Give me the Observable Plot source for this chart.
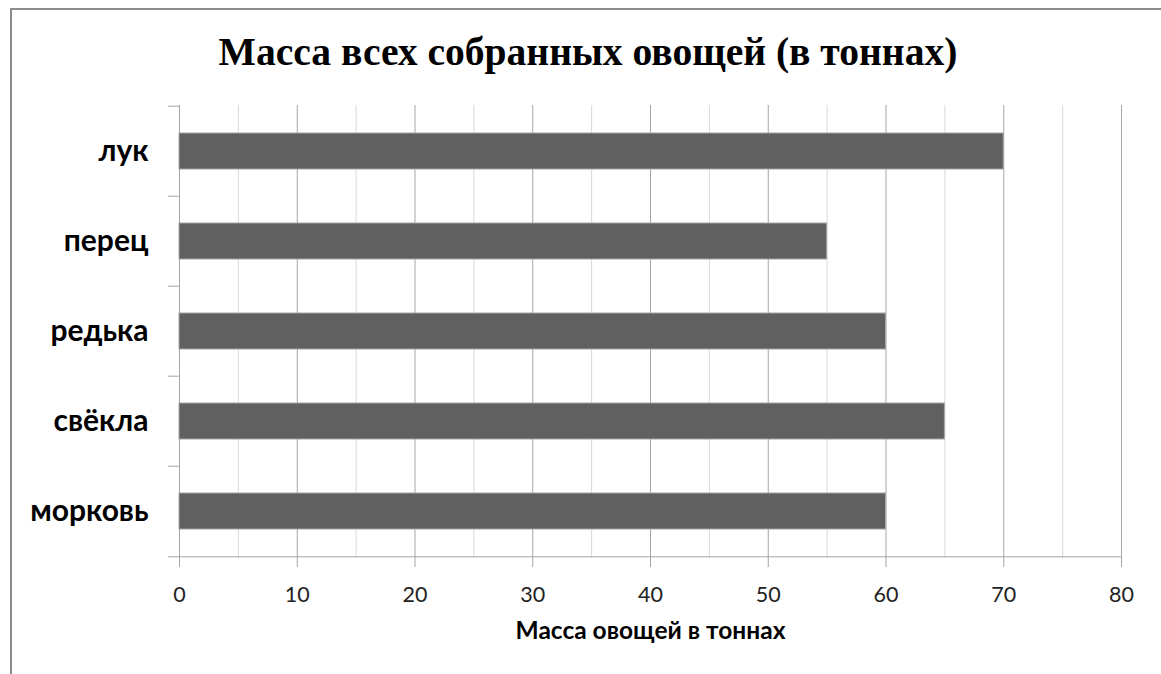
<!DOCTYPE html>
<html>
<head>
<meta charset="utf-8">
<script src="https://cdn.jsdelivr.net/npm/d3@7"></script>
<script src="https://cdn.jsdelivr.net/npm/@observablehq/plot@0.6"></script>
<style>
  html, body { margin: 0; padding: 0; background: #fff; overflow: hidden; }
  #frame { position: absolute; left: 10px; top: 8px; width: 1200px; height: 720px; border: 2px solid #8c8c8c; box-sizing: border-box; }
  #title { position: absolute; left: 0; top: 32px; width: 1176px; text-align: center; line-height: 40px;
           font-family: "Liberation Serif", serif; font-weight: bold; font-size: 39.6px; color: #000; }
  #chart { position: absolute; left: 0; top: 0; }
</style>
</head>
<body>
<div id="frame"></div>
<div id="title">Масса всех собранных овощей (в тоннах)</div>
<div id="chart"></div>
<script>
const categories = ["лук", "перец", "редька", "свёкла", "морковь"];
const values = [70, 55, 60, 65, 60];
const majorTicks = [0, 10, 20, 30, 40, 50, 60, 70, 80];
const minorTicks = [5, 15, 25, 35, 45, 55, 65, 75];
const xTitle = "Масса овощей в тоннах";

const data = categories.map((name, i) => ({name, value: values[i]}));

const W = 1161, H = 674, mT = 105, mB = 116, mL = 179, mR = 40;
const step = (H - mT - mB) / categories.length;
const tickLen = 0.93; // y tick length in x units (~11px)

const chart = Plot.plot({
  width: W, height: H,
  marginTop: mT, marginBottom: mB, marginLeft: mL, marginRight: mR,
  style: {fontFamily: "Lato, sans-serif", fontSize: "21.5px", color: "#222", background: "transparent", overflow: "visible"},
  x: {domain: [0, 80]},
  y: {domain: categories, paddingInner: 0.6, paddingOuter: 0.3, axis: null},
  marks: [
    Plot.ruleX(minorTicks, {stroke: "#d9d9d9", strokeWidth: 1}),
    Plot.ruleX(majorTicks, {stroke: "#a6a6a6", strokeWidth: 1}),
    Plot.ruleY(categories, {y: d => d, dy: -step / 2, x1: -tickLen, x2: 0, stroke: "#a6a6a6"}),
    Plot.ruleY(categories.slice(-1), {y: d => d, dy: step / 2, x1: -tickLen, x2: 80, stroke: "#a6a6a6"}),
    Plot.barX(data, {x: "value", y: "name", fill: "#606060", stroke: "#a3a3a3", strokeWidth: 1}),
    Plot.text(categories, {y: d => d, text: d => d, frameAnchor: "left", dx: -31, textAnchor: "end",
      fontWeight: "bold", fontSize: 30, fill: "#000"}),
    Plot.axisX({ticks: majorTicks, tickSize: 9, tickPadding: 19, stroke: "#a6a6a6", fill: "#222", label: null, fontSize: 21.5}),
    Plot.text([xTitle], {text: d => d, frameAnchor: "bottom", dy: 80, fontWeight: "bold", fontSize: 24.5, fill: "#000"})
  ]
});
document.getElementById("chart").appendChild(chart);
</script>
</body>
</html>
